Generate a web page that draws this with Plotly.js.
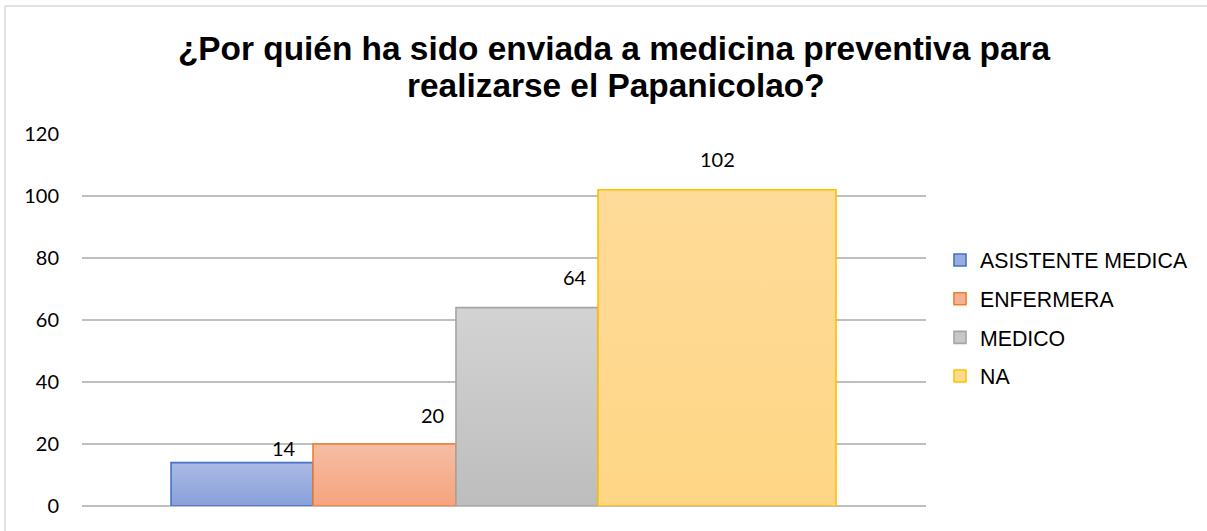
<!DOCTYPE html>
<html>
<head>
<meta charset="utf-8">
<script src="https://cdn.plot.ly/plotly-3.0.1.min.js"></script>
<style>html,body{margin:0;padding:0;background:#fff;}#chart{width:1207px;height:531px;}</style>
</head>
<body>
<div id="chart"></div>
<script>
// Data
const categories = ["ASISTENTE MEDICA", "ENFERMERA", "MEDICO", "NA"];
const values = [14, 20, 64, 102];
const yTicks = [0, 20, 40, 60, 80, 100, 120];
const titleLines = ["¿Por quién ha sido enviada a medicina preventiva para", "realizarse el Papanicolao?"];

// Styles (bar placement within the single category slot)
const barOffsets = [-0.3945, -0.2263, -0.0569, 0.1114];
const barWidths = [0.168, 0.1694, 0.168, 0.282];
const labelX = [-0.2607, -0.0853, 0.0841, 0.2524];
const labelShift = [1, 15, 17, 17];
const lineColors = ["#4472C4", "#ED7D31", "#A5A5A5", "#FFC000"];
const fillColors = ["#99AEE0", "#F6B092", "#C8C8C8", "#FFD98E"];
const gradTop = ["#ABBAE4", "#F6BDA4", "#D3D3D3", "#FEDB99"];
const gradBottom = ["#889FDA", "#F6A47E", "#BDBDBD", "#FFD685"];
const titleFont = {family: "'Liberation Sans', Arial, sans-serif", size: 33.4, color: "#000", weight: "bold"};

const traces = categories.map((c, i) => ({
  type: "bar",
  name: c,
  x: [0],
  y: [values[i]],
  offset: barOffsets[i],
  width: barWidths[i],
  legendgroup: "g" + i,
  marker: {color: fillColors[i], line: {color: lineColors[i], width: 1.6}},
  hoverinfo: "skip"
}));

const annotations = categories.map((c, i) => ({
  x: labelX[i], y: values[i], xref: "x", yref: "y",
  text: String(values[i]), showarrow: false,
  yanchor: "bottom", yshift: labelShift[i],
  font: {family: "Lato, 'Open Sans', sans-serif", size: 20, color: "#000"}
}));
annotations.push({
  x: (615.5 - 82) / 844, y: (506 - 106) / 372, xref: "paper", yref: "paper",
  xanchor: "center", yanchor: "bottom", showarrow: false,
  text: titleLines[1], font: titleFont
});

const layout = {
  width: 1207, height: 531,
  paper_bgcolor: "#fff", plot_bgcolor: "#fff",
  margin: {l: 82, r: 281, t: 134, b: 25, autoexpand: false},
  barmode: "overlay",
  title: {
    text: titleLines[0],
    font: titleFont,
    x: 614 / 1207, xref: "container", xanchor: "center",
    y: 1 - 37 / 531, yref: "container", yanchor: "top"
  },
  xaxis: {
    type: "linear", range: [-0.5, 0.5], showgrid: false, zeroline: false,
    showticklabels: false, ticks: "", showline: false, fixedrange: true
  },
  yaxis: {
    range: [0, 120], tickvals: yTicks, ticktext: yTicks.map(String),
    showgrid: true, gridcolor: "#BFBFBF", gridwidth: 1.3,
    zeroline: true, zerolinecolor: "#BFBFBF", zerolinewidth: 1.3,
    showline: false, ticks: "", ticklabelstandoff: 22,
    tickfont: {family: "Lato, 'Open Sans', sans-serif", size: 20, color: "#000"}
  },
  showlegend: true,
  legend: {
    x: (940 - 82) / 844, xanchor: "left", y: 0.716, yanchor: "top",
    traceorder: "grouped", tracegroupgap: 8, itemwidth: 30,
    font: {family: "'Liberation Sans', Arial, sans-serif", size: 21.3, color: "#000"},
    bgcolor: "rgba(0,0,0,0)"
  },
  annotations: annotations,
  shapes: [
    {type: "line", xref: "paper", yref: "paper", x0: (5-82)/844, x1: (1207-82)/844, y0: (506-6)/372, y1: (506-6)/372, line: {color: "#D9D9D9", width: 1.5}},
    {type: "line", xref: "paper", yref: "paper", x0: (5-82)/844, x1: (5-82)/844, y0: (506-6)/372, y1: (506-531)/372, line: {color: "#D9D9D9", width: 1.5}}
  ]
};

Plotly.newPlot("chart", traces, layout, {displayModeBar: false, staticPlot: true}).then(gd => {
  const svg = gd.querySelector("svg.main-svg");
  const ns = "http://www.w3.org/2000/svg";
  let defs = svg.querySelector("defs");
  if (!defs) { defs = document.createElementNS(ns, "defs"); svg.insertBefore(defs, svg.firstChild); }
  categories.forEach((c, i) => {
    const g = document.createElementNS(ns, "linearGradient");
    g.setAttribute("id", "bargrad" + i);
    g.setAttribute("x1", "0"); g.setAttribute("y1", "0"); g.setAttribute("x2", "0"); g.setAttribute("y2", "1");
    [[0, gradTop[i]], [1, gradBottom[i]]].forEach(([o, col]) => {
      const s = document.createElementNS(ns, "stop");
      s.setAttribute("offset", o); s.setAttribute("stop-color", col);
      g.appendChild(s);
    });
    defs.appendChild(g);
  });
  const barTraces = gd.querySelectorAll(".barlayer .trace");
  barTraces.forEach((t, i) => {
    t.querySelectorAll("path").forEach(p => { p.style.fill = "url(#bargrad" + i + ")"; });
  });
});
</script>
</body>
</html>
